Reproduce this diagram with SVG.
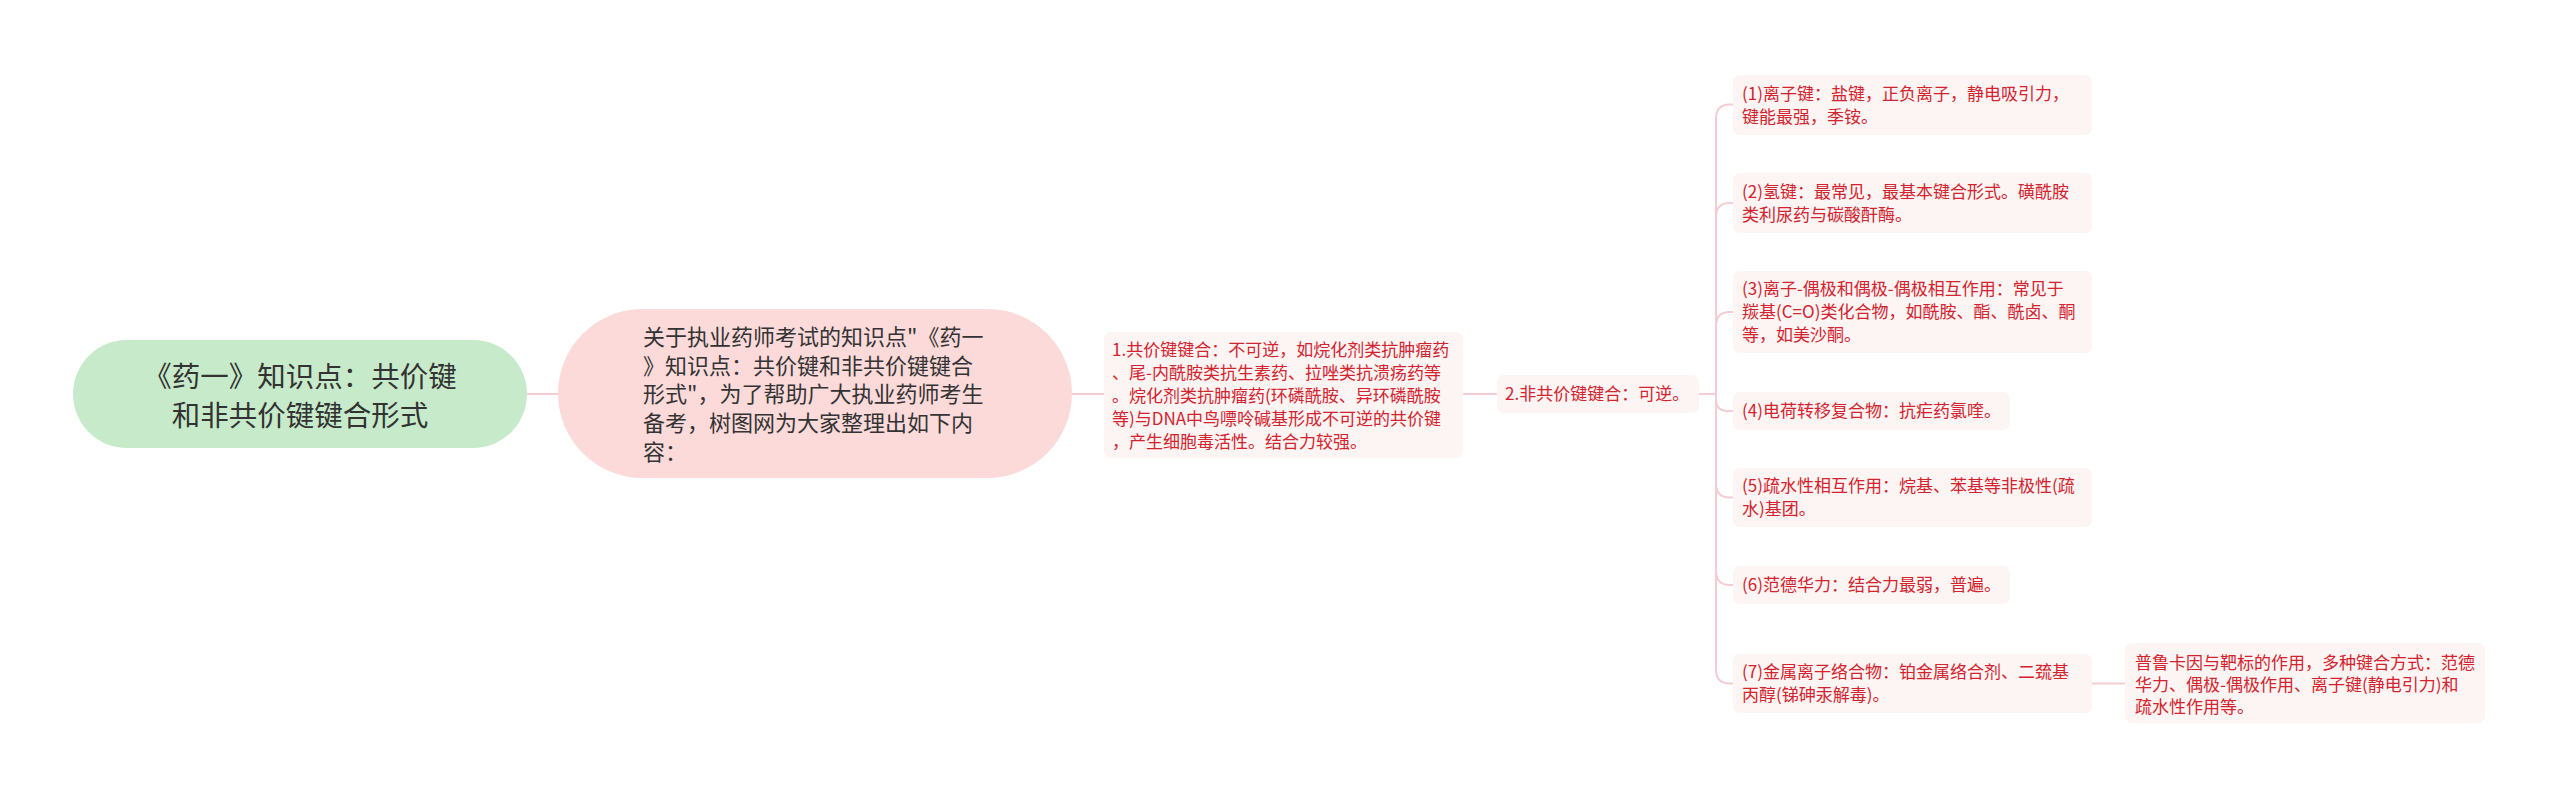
<svg xmlns="http://www.w3.org/2000/svg" width="2560" height="799" viewBox="0 0 2560 799">
<style>
text{font-family:"Noto Sans CJK SC","Noto Sans",sans-serif}
.root{fill:#c7ebca}
.main{fill:#fcdada}
.box{fill:#fdf4f4}
.rt{font-size:28.5px;fill:#333;text-anchor:middle}
.mt{font-size:22px;fill:#333}
.st{font-size:17px;fill:#d2232e}
.ln{fill:none;stroke:#f3cdd1;stroke-width:2}
</style>
<rect width="2560" height="799" fill="#fff"/>
<g id="connectors">
<path class="ln" d="M527 394H558"/>
<path class="ln" d="M1072 394H1104"/>
<path class="ln" d="M1463 394H1497"/>
<path class="ln" d="M1699 394H1716"/>
<path class="ln" d="M1716 394V118.5Q1716 104.5 1730 104.5H1733"/>
<path class="ln" d="M1716 394V217Q1716 203 1730 203H1733"/>
<path class="ln" d="M1716 394V326Q1716 312 1730 312H1733"/>
<path class="ln" d="M1716 394V399Q1716 411 1728 411H1733"/>
<path class="ln" d="M1716 394V483.5Q1716 497.5 1730 497.5H1733"/>
<path class="ln" d="M1716 394V571Q1716 585 1730 585H1733"/>
<path class="ln" d="M1716 394V669.5Q1716 683.5 1730 683.5H1733"/>
<path class="ln" d="M2092 683.5H2125"/>
</g>
<g id="root">
<rect class="root" x="73" y="340" width="454" height="108" rx="54"/>
<text class="rt" x="300" y="387">《药一》知识点：共价键</text>
<text class="rt" x="300" y="426">和非共价键键合形式</text>
</g>
<g id="intro">
<rect class="main" x="558" y="309" width="514" height="169" rx="84.5"/>
<text class="mt" x="643" y="345">关于执业药师考试的知识点"《药一</text>
<text class="mt" x="643" y="374">》知识点：共价键和非共价键键合</text>
<text class="mt" x="643" y="402">形式"，为了帮助广大执业药师考生</text>
<text class="mt" x="643" y="431">备考，树图网为大家整理出如下内</text>
<text class="mt" x="643" y="460">容：</text>
</g>
<g id="n1">
<rect class="box" x="1104" y="332" width="359" height="126" rx="7"/>
<text class="st" x="1112" y="356">1.共价键键合：不可逆，如烷化剂类抗肿瘤药</text>
<text class="st" x="1112" y="379">、尾-内酰胺类抗生素药、拉唑类抗溃疡药等</text>
<text class="st" x="1112" y="402">。烷化剂类抗肿瘤药(环磷酰胺、异环磷酰胺</text>
<text class="st" x="1112" y="425">等)与DNA中鸟嘌呤碱基形成不可逆的共价键</text>
<text class="st" x="1112" y="448">，产生细胞毒活性。结合力较强。</text>
</g>
<g id="n2">
<rect class="box" x="1497" y="375" width="202" height="38" rx="7"/>
<text class="st" x="1505" y="400">2.非共价键键合：可逆。</text>
</g>
<g id="c1">
<rect class="box" x="1733" y="75" width="359" height="60" rx="7"/>
<text class="st" x="1742" y="99.5">(1)离子键：盐键，正负离子，静电吸引力，</text>
<text class="st" x="1742" y="122.5">键能最强，季铵。</text>
</g>
<g id="c2">
<rect class="box" x="1733" y="173" width="359" height="60" rx="7"/>
<text class="st" x="1742" y="197.5">(2)氢键：最常见，最基本键合形式。磺酰胺</text>
<text class="st" x="1742" y="220.5">类利尿药与碳酸酐酶。</text>
</g>
<g id="c3">
<rect class="box" x="1733" y="271" width="359" height="82" rx="7"/>
<text class="st" x="1742" y="295">(3)离子-偶极和偶极-偶极相互作用：常见于</text>
<text class="st" x="1742" y="318">羰基(C=O)类化合物，如酰胺、酯、酰卤、酮</text>
<text class="st" x="1742" y="341">等，如美沙酮。</text>
</g>
<g id="c4">
<rect class="box" x="1733" y="392" width="277" height="38" rx="7"/>
<text class="st" x="1742" y="417">(4)电荷转移复合物：抗疟药氯喹。</text>
</g>
<g id="c5">
<rect class="box" x="1733" y="468" width="359" height="59" rx="7"/>
<text class="st" x="1742" y="492">(5)疏水性相互作用：烷基、苯基等非极性(疏</text>
<text class="st" x="1742" y="515">水)基团。</text>
</g>
<g id="c6">
<rect class="box" x="1733" y="566" width="277" height="38" rx="7"/>
<text class="st" x="1742" y="591">(6)范德华力：结合力最弱，普遍。</text>
</g>
<g id="c7">
<rect class="box" x="1733" y="654" width="359" height="59" rx="7"/>
<text class="st" x="1742" y="678">(7)金属离子络合物：铂金属络合剂、二巯基</text>
<text class="st" x="1742" y="701">丙醇(锑砷汞解毒)。</text>
</g>
<g id="c7a">
<rect class="box" x="2125" y="643" width="360" height="80" rx="7"/>
<text class="st" x="2135" y="668.5">普鲁卡因与靶标的作用，多种键合方式：范德</text>
<text class="st" x="2135" y="690.5">华力、偶极-偶极作用、离子键(静电引力)和</text>
<text class="st" x="2135" y="712.5">疏水性作用等。</text>
</g>
</svg>
